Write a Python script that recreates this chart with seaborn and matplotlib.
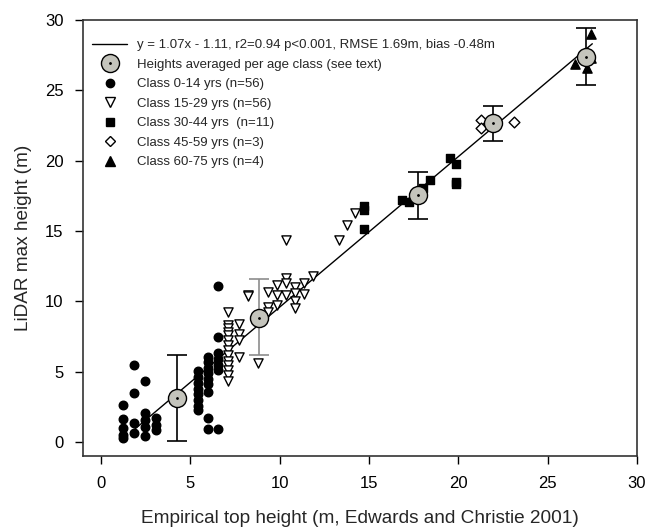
import matplotlib
matplotlib.use('Agg')
import matplotlib.pyplot as plt
from matplotlib.lines import Line2D
import seaborn as sns
import pandas as pd
import numpy as np

sns.set_theme(style="white")
plt.rcParams['font.family'] = ['Liberation Sans', 'DejaVu Sans']

# Class 0-14 yrs (filled circles)
c0_x = [1.25, 1.25, 1.25, 1.25, 1.25, 1.85, 1.85, 1.85, 1.85, 2.46, 2.46, 2.46, 2.46, 2.46,
        3.08, 3.08, 3.08, 5.45, 5.45, 5.45, 5.45, 5.45, 5.45, 5.45, 5.45,
        6.0, 6.0, 6.0, 6.0, 6.0, 6.0, 6.0, 6.0, 6.0,
        6.57, 6.57, 6.57, 6.57, 6.57, 6.57, 6.57]
c0_y = [2.63, 1.63, 1.0, 0.5, 0.3, 5.47, 3.5, 1.35, 0.64, 4.34, 2.06, 1.56, 1.04, 0.45,
        1.68, 1.2, 0.85, 5.05, 4.6, 4.2, 3.8, 3.4, 3.0, 2.6, 2.27,
        6.06, 5.7, 5.3, 4.9, 4.5, 4.1, 3.58, 1.68, 0.9,
        11.1, 7.44, 6.3, 5.9, 5.5, 5.1, 0.95]

# Class 15-29 yrs (open down triangles)
c1_x = [7.13] * 14 + [7.75] * 4 + [8.25, 8.25, 8.8, 9.33, 9.33, 9.33, 9.83, 9.83, 9.83,
        10.36, 10.36, 10.36, 10.36, 10.86, 10.86, 10.86, 10.86, 11.38, 11.38, 11.85,
        13.3, 13.76, 14.2]
c1_y = [9.26, 8.3, 8.08, 7.84, 7.6, 7.25, 6.9, 6.54, 6.18, 5.8, 5.45, 5.1, 4.74, 4.38,
        8.43, 7.72, 7.25, 6.06,
        10.45, 10.38, 5.6, 10.7, 9.6, 9.26, 11.16, 10.45, 9.74,
        14.36, 11.7, 11.3, 10.45, 11.0, 10.6, 10.0, 9.5, 11.3, 10.5, 11.8,
        14.36, 15.4, 16.3]

# Class 30-44 yrs (filled squares)
c2_x = [14.7, 14.7, 14.7, 16.84, 17.26, 18.0, 18.4, 19.54, 19.9, 19.9, 19.9]
c2_y = [16.75, 16.5, 15.15, 17.2, 17.04, 18.07, 18.6, 20.2, 19.76, 18.5, 18.34]

# Class 45-59 yrs (open diamonds)
c3_x = [21.28, 21.28, 23.12]
c3_y = [22.9, 22.3, 22.77]

# Class 60-75 yrs (filled up triangles)
c4_x = [27.44, 26.54, 27.44, 27.2]
c4_y = [29.0, 26.9, 27.27, 26.56]

# averages per age class with range bars
mean_x = [4.24, 8.85, 17.77, 21.93, 27.16]
mean_y = [3.15, 8.8, 17.55, 22.65, 27.4]
bar_lo = [0.05, 6.18, 15.85, 21.4, 25.37]
bar_hi = [6.18, 11.56, 19.17, 23.9, 29.47]
bar_colors = ['black', '#8c8c8c', 'black', 'black', 'black']

# regression line
fit_slope = 1.07
fit_intercept = -1.11
fit_range = [1.8, 27.5]

fig = plt.figure(figsize=(6.48, 5.28), dpi=100)
ax = fig.add_axes([0.128, 0.136, 0.855, 0.826])

line_x = np.array(fit_range)
sns.lineplot(x=line_x, y=fit_slope * line_x + fit_intercept, ax=ax, color='black', lw=1.0)

classes = [
    (c0_x, c0_y, 'o', 'black', 'black', 38),
    (c1_x, c1_y, 'v', 'white', 'black', 44),
    (c2_x, c2_y, 's', 'black', 'black', 38),
    (c3_x, c3_y, 'D', 'white', 'black', 30),
    (c4_x, c4_y, '^', 'black', 'black', 44),
]
for cx, cy, mk, fc, ec, sz in classes:
    df = pd.DataFrame({'x': cx, 'y': cy})
    sns.scatterplot(data=df, x='x', y='y', ax=ax, marker=mk, color=fc,
                    edgecolor=ec, linewidth=1.0, s=sz, zorder=3)

for mx, my, lo, hi, col in zip(mean_x, mean_y, bar_lo, bar_hi, bar_colors):
    ax.errorbar(mx, my, yerr=[[my - lo], [hi - my]], fmt='none', ecolor=col,
                elinewidth=1.2, capsize=7, capthick=1.2, zorder=2)
ax.plot(mean_x, mean_y, 'o', ms=13, mfc='#c4c4bc', mec='black', mew=1.0, ls='none', zorder=4)
ax.plot(mean_x, mean_y, '.', ms=2, color='black', ls='none', zorder=5)

ax.set_xlim(-1, 30)
ax.set_ylim(-1, 30)
ax.set_xticks(range(0, 31, 5))
ax.set_yticks(range(0, 31, 5))
ax.tick_params(axis='both', which='both', direction='out', length=6, width=1,
               labelsize=12, pad=8, bottom=True, left=True, colors='black')
for sp in ax.spines.values():
    sp.set_color('#333333')
    sp.set_linewidth(1.2)
ax.set_xlabel('Empirical top height (m, Edwards and Christie 2001)', fontsize=13.7, labelpad=14)
ax.set_ylabel('LiDAR max height (m)', fontsize=13.7, labelpad=9)

handles = [
    Line2D([], [], color='black', lw=1.0),
    (Line2D([], [], marker='o', ms=13, mfc='#c4c4bc', mec='black', ls='none'),
     Line2D([], [], marker='.', ms=2, color='black', ls='none')),
    Line2D([], [], marker='o', ms=6, color='black', ls='none'),
    Line2D([], [], marker='v', ms=7, mfc='white', mec='black', ls='none'),
    Line2D([], [], marker='s', ms=6, color='black', ls='none'),
    Line2D([], [], marker='D', ms=5.5, mfc='white', mec='black', ls='none'),
    Line2D([], [], marker='^', ms=7, color='black', ls='none'),
]
labels = [
    'y = 1.07x - 1.11, r2=0.94 p<0.001, RMSE 1.69m, bias -0.48m',
    'Heights averaged per age class (see text)',
    'Class 0-14 yrs (n=56)',
    'Class 15-29 yrs (n=56)',
    'Class 30-44 yrs  (n=11)',
    'Class 45-59 yrs (n=3)',
    'Class 60-75 yrs (n=4)',
]
ax.legend(handles, labels, loc='upper left', bbox_to_anchor=(0.016, 0.956),
          frameon=False, fontsize=9.5, handlelength=2.7, handletextpad=0.75,
          labelspacing=0.55, borderaxespad=0, borderpad=0)

plt.savefig('out.png', dpi=100)
